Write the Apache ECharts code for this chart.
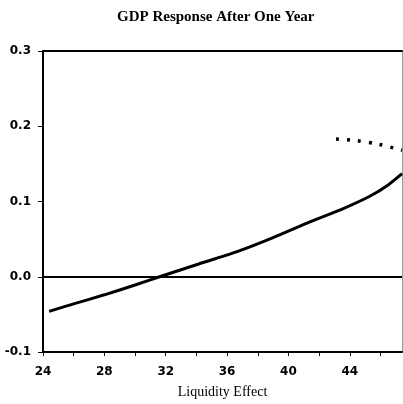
<!DOCTYPE html>
<html>
<head>
<meta charset="utf-8">
<script src="https://cdn.jsdelivr.net/npm/echarts@6/dist/echarts.min.js"></script>
<style>html,body{margin:0;padding:0;background:#fff}#c{width:403px;height:404px}</style>
</head>
<body>
<div id="c"></div>
<script>
var titleText = 'GDP Response After One Year';
var xAxisName = 'Liquidity Effect';
var solidX = [24.4, 26, 28, 30, 31.6, 34, 36.6, 39, 41.4, 43.5, 45.3, 46.5, 47.4];
var solidY = [-0.046, -0.036, -0.024, -0.011, 0.0, 0.016, 0.033, 0.052, 0.073, 0.090, 0.107, 0.122, 0.137];
var dottedX = [43.1, 44.4, 45.9, 47.4];
var dottedY = [0.183, 0.181, 0.176, 0.168];
var xMin = 24, xMax = 47.4, xStep = 2;
var yMin = -0.1, yMax = 0.3, yStep = 0.1;

function pairs(xs, ys){ return xs.map(function(x,i){ return [x, ys[i]]; }); }

var chart = echarts.init(document.getElementById('c'), null, {renderer:'canvas'});
chart.setOption({
  animation: false,
  backgroundColor: '#fff',
  title: {
    text: titleText, left: 112, top: 5,
    textStyle: {fontFamily: 'Liberation Serif', fontWeight: 'bold', fontSize: 15, color: '#000'}
  },
  grid: {left: 43, right: 1, top: 51, bottom: 52},
  xAxis: [{
    type: 'value', min: xMin, max: xMax, interval: xStep, position: 'bottom',
    name: xAxisName, nameLocation: 'middle', nameGap: 33,
    nameTextStyle: {fontFamily: 'Liberation Serif', fontSize: 14, color: '#000'},
    axisLine: {show: true, onZero: false, lineStyle: {color: '#000', width: 2}},
    axisTick: {show: true, length: 4, lineStyle: {color: '#000', width: 1}},
    axisLabel: {
      margin: 14, color: '#000', fontFamily: 'DejaVu Sans', fontWeight: 'bold', fontSize: 12,
      showMaxLabel: false,
      formatter: function(v){ return (Math.abs(v % 4) < 1e-9) ? String(v) : ''; }
    },
    splitLine: {show: false}
  }, {
    type: 'value', min: xMin, max: xMax, position: 'top',
    axisLine: {show: true, onZero: false, lineStyle: {color: '#000', width: 2}},
    axisTick: {show: false}, axisLabel: {show: false}, splitLine: {show: false}
  }],
  yAxis: [{
    type: 'value', min: yMin, max: yMax, interval: yStep, position: 'left',
    axisLine: {show: true, onZero: false, lineStyle: {color: '#000', width: 2}},
    axisTick: {show: true, length: 5, lineStyle: {color: '#000', width: 1}},
    axisLabel: {
      margin: 12, color: '#000', fontFamily: 'DejaVu Sans', fontWeight: 'bold', fontSize: 12,
      formatter: function(v){ return v.toFixed(1); }
    },
    splitLine: {show: false}
  }, {
    type: 'value', min: yMin, max: yMax, position: 'right',
    axisLine: {show: true, onZero: false, lineStyle: {color: '#999', width: 1}},
    axisTick: {show: false}, axisLabel: {show: false}, splitLine: {show: false}
  }],
  series: [{
    type: 'line', data: pairs(solidX, solidY), smooth: 0.2, showSymbol: false,
    lineStyle: {color: '#000', width: 3}, z: 3,
    markLine: {
      silent: true, symbol: ['none','none'], label: {show: false},
      lineStyle: {color: '#000', width: 2, type: 'solid'},
      data: [{yAxis: 0}]
    }
  }, {
    type: 'line', data: pairs(dottedX, dottedY), smooth: 0.3, showSymbol: false,
    lineStyle: {color: '#000', width: 3.5, type: [3, 8]}, z: 3
  }]
});
</script>
</body>
</html>
